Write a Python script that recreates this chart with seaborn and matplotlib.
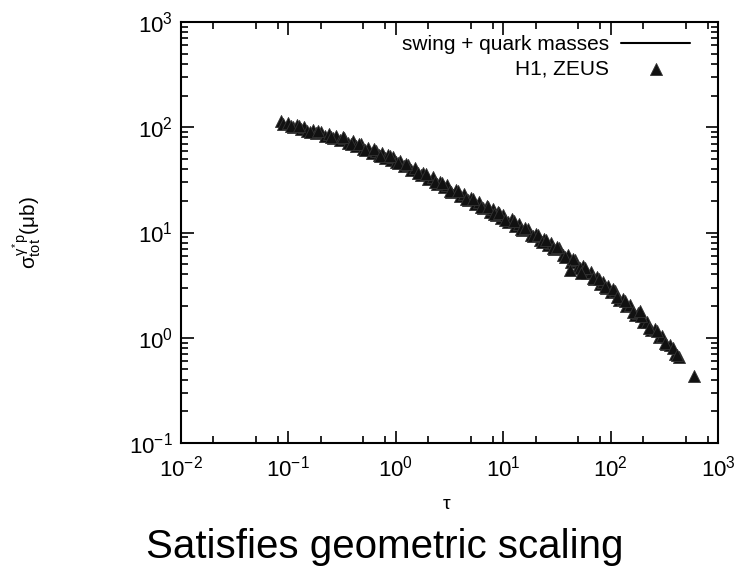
import matplotlib
matplotlib.use("Agg")
import matplotlib.pyplot as plt
import seaborn as sns
import pandas as pd
from matplotlib.ticker import LogLocator, NullFormatter

# ---- data ----
tau_data = [0.085, 0.09, 0.1, 0.11, 0.12, 0.13, 0.14, 0.15, 0.17, 0.18, 0.2, 0.22, 0.24, 0.26,
            0.28, 0.3, 0.33, 0.36, 0.4, 0.43, 0.47, 0.5, 0.55, 0.6, 0.65, 0.7, 0.75, 0.8, 0.85,
            0.9, 0.95, 1.0, 1.1, 1.2, 1.3, 1.4, 1.5, 1.7, 1.8, 2.0, 2.2, 2.4, 2.6, 2.8, 3.0,
            3.3, 3.6, 4.0, 4.3, 4.7, 5.0, 5.5, 6.0, 6.5, 7.0, 7.5, 8.0, 8.5, 9.0, 9.5, 10,
            11, 12, 13, 14, 15, 17, 18, 20, 22, 24, 26, 28, 30, 33, 36, 40, 43, 47, 50, 55,
            60, 65, 70, 75, 80, 85, 90, 95, 100, 110, 120, 130, 140, 150, 170, 180, 200,
            220, 240, 260, 280, 300, 330, 360, 400, 430, 600,
            0.105, 0.125, 0.16, 0.19, 0.25, 0.32, 0.38, 0.45, 0.52, 0.62, 0.72, 0.88, 1.05,
            1.25, 1.6, 1.9, 2.3, 2.7, 3.2, 3.8, 4.5, 5.2, 6.2, 7.2, 8.2, 9.2, 10.5, 12.5,
            14.5, 16, 19, 21, 23, 25, 29, 32, 38, 45, 52, 58, 68, 78, 88, 105, 115, 135,
            160, 190, 230, 270, 320, 380, 415, 42, 53, 188]
sigma_data = [115, 108, 110, 101, 104, 96, 100, 92, 95, 88, 90, 83, 87, 79,
              83, 76, 79, 71, 74, 66, 69, 62, 64, 57, 60, 54, 57, 51, 54,
              49, 52, 47, 48, 42.5, 44, 39, 41, 35, 37, 32, 33.5, 29, 30.5, 26.8, 28.3,
              24.5, 25.6, 22.1, 23.3, 20.2, 21.4, 18.6, 19.4, 17.0, 17.9, 15.7, 16.6, 14.7, 15.7, 13.8, 14.7,
              12.7, 13.3, 11.5, 12.0, 10.6, 10.8, 9.45, 9.75, 8.4, 8.75, 7.6, 7.95, 6.95, 7.15, 6.1, 6.15, 5.3, 5.45, 4.7, 4.8,
              4.1, 4.2, 3.62, 3.77, 3.26, 3.41, 2.98, 3.13, 2.74, 2.76, 2.3, 2.34, 1.99, 2.04, 1.65, 1.71, 1.41,
              1.42, 1.18, 1.2, 1.02, 1.04, 0.87, 0.86, 0.7, 0.66, 0.43,
              102, 103, 90, 93, 80, 80, 70, 70, 61, 61.5, 53.5, 53.5, 45.8,
              45.2, 36.4, 36, 29.9, 29.8, 25, 24.8, 20.8, 21, 17.5, 17.5, 15, 15.4, 13.1, 12.9,
              10.8, 11.1, 9.2, 9.45, 8.2, 8.5, 7.15, 7.3, 5.88, 5.6, 4.6, 4.6, 3.73, 3.65, 3.05, 2.88, 2.42, 2.25,
              1.76, 1.62, 1.24, 1.15, 0.9, 0.8, 0.68, 4.4, 4.1, 1.78]

tau_model = [0.085, 0.1, 0.3, 1, 3, 10, 30, 100, 300, 450]
sigma_model = [112, 107, 79, 49, 27.1, 14.1, 7.31, 2.88, 1.0, 0.66]

x_ticks = [1e-2, 1e-1, 1e0, 1e1, 1e2, 1e3]
y_ticks = [1e-1, 1e0, 1e1, 1e2, 1e3]

df_data = pd.DataFrame({"tau": tau_data, "sigma": sigma_data})
df_model = pd.DataFrame({"tau": tau_model, "sigma": sigma_model})

sns.set_theme(style="ticks")
plt.rcParams["font.family"] = ["Liberation Sans", "DejaVu Sans"]
plt.rcParams["mathtext.fontset"] = "custom"
plt.rcParams["mathtext.rm"] = "Liberation Sans"
plt.rcParams["mathtext.it"] = "Liberation Sans"
plt.rcParams["mathtext.sf"] = "Liberation Sans"
plt.rcParams["axes.unicode_minus"] = False
plt.rcParams["text.color"] = "black"
plt.rcParams["axes.labelcolor"] = "black"
plt.rcParams["xtick.color"] = "black"
plt.rcParams["ytick.color"] = "black"

fig = plt.figure(figsize=(7.37, 5.78), dpi=100)
ax = fig.add_axes([181/737, 1-443/578, (718-181)/737, (443-22)/578])

sns.lineplot(data=df_model, x="tau", y="sigma", ax=ax, color="black", lw=1.5,
             label="swing + quark masses", sort=True)
sns.scatterplot(data=df_data, x="tau", y="sigma", ax=ax, marker="^", s=75,
                color="#111111", edgecolor="#333333", linewidth=0.6, label="H1, ZEUS", zorder=3)

ax.set_xscale("log")
ax.set_yscale("log")
ax.set_xlim(1e-2, 1e3)
ax.set_ylim(1e-1, 1e3)
ax.set_xticks(x_ticks)
ax.set_yticks(y_ticks)
ax.xaxis.set_minor_locator(LogLocator(base=10, subs=[2, 5, 8], numticks=20))
ax.yaxis.set_minor_locator(LogLocator(base=10, subs=range(2, 10), numticks=20))
ax.xaxis.set_minor_formatter(NullFormatter())
ax.yaxis.set_minor_formatter(NullFormatter())
ax.tick_params(which="both", direction="in", top=True, right=True, colors="black", width=1.2)
ax.tick_params(which="major", length=9, labelsize=16)
ax.tick_params(axis="y", which="major", pad=6)
ax.tick_params(axis="x", which="major", pad=9)
ax.tick_params(which="minor", length=5)
for sp in ax.spines.values():
    sp.set_linewidth(1.5)
    sp.set_color("black")

ax.set_xlabel(r"$\tau$", fontsize=14, color="black")
ax.set_ylabel(r"$\sigma^{\gamma^{*} p}_{tot}(\mu b)$", fontsize=15, color="black")
ax.xaxis.set_label_coords(0.495, -0.125)
ax.yaxis.set_label_coords(-0.255, 0.5)

leg = ax.legend(loc="upper right", bbox_to_anchor=(0.948, 0.968), frameon=False, markerfirst=False,
                fontsize=15, handlelength=3.3, handletextpad=0.6, labelspacing=0.22,
                borderpad=0, borderaxespad=0)
for t in leg.get_texts():
    t.set_color("black")

fig.text(0.522, 0.053, "Satisfies geometric scaling", fontsize=29, ha="center", va="center",
         color="black")

fig.savefig("out.png", dpi=100)
